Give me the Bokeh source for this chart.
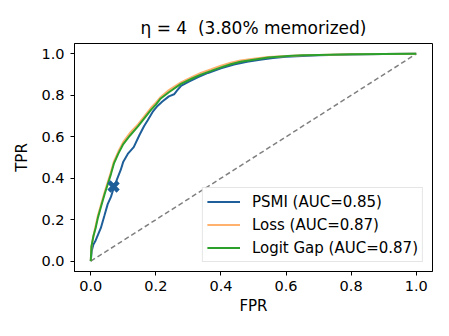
from bokeh.plotting import figure
from bokeh.embed import file_html
from bokeh.resources import INLINE
from bokeh.models import Range1d, FixedTicker, Legend, LegendItem, Title, PrintfTickFormatter

# ---- data ----
psmi_fpr = [0.0, 0.003, 0.008, 0.015, 0.023, 0.031, 0.042, 0.052, 0.062, 0.071, 0.082,
            0.092, 0.100, 0.115, 0.132, 0.150, 0.164, 0.175, 0.190, 0.205, 0.220, 0.240,
            0.256, 0.266, 0.277, 0.300, 0.330, 0.360, 0.400, 0.440, 0.480, 0.520, 0.560,
            0.600, 0.650, 0.700, 0.800, 0.900, 1.0]
psmi_tpr = [0.0, 0.05, 0.08, 0.10, 0.13, 0.16, 0.22, 0.275, 0.31, 0.355, 0.40,
            0.44, 0.48, 0.52, 0.55, 0.61, 0.652, 0.68, 0.72, 0.749, 0.77, 0.795,
            0.805, 0.825, 0.845, 0.865, 0.888, 0.908, 0.93, 0.948, 0.962, 0.972, 0.98,
            0.986, 0.99, 0.993, 0.997, 0.999, 1.0]

loss_fpr = [0.0, 0.002, 0.008, 0.015, 0.022, 0.031, 0.042, 0.052, 0.062, 0.071, 0.085,
            0.100, 0.120, 0.145, 0.165, 0.185, 0.200, 0.215, 0.240, 0.277, 0.310, 0.338,
            0.370, 0.400, 0.430, 0.460, 0.500, 0.545, 0.606, 0.650, 0.700, 0.800, 0.900, 1.0]
loss_tpr = [0.0, 0.07, 0.12, 0.17, 0.22, 0.27, 0.33, 0.38, 0.43, 0.48, 0.53,
            0.575, 0.618, 0.66, 0.70, 0.74, 0.765, 0.792, 0.825, 0.862, 0.888, 0.908,
            0.926, 0.943, 0.957, 0.968, 0.977, 0.985, 0.99, 0.993, 0.995, 0.998, 0.999, 1.0]

gap_fpr = [0.0, 0.002, 0.008, 0.015, 0.022, 0.031, 0.042, 0.052, 0.062, 0.071, 0.085,
           0.100, 0.120, 0.145, 0.165, 0.185, 0.200, 0.215, 0.240, 0.277, 0.310, 0.338,
           0.370, 0.400, 0.430, 0.460, 0.500, 0.545, 0.606, 0.650, 0.700, 0.800, 0.900, 1.0]
gap_tpr = [0.0, 0.07, 0.12, 0.16, 0.21, 0.26, 0.32, 0.37, 0.42, 0.47, 0.52,
           0.565, 0.605, 0.65, 0.69, 0.73, 0.755, 0.785, 0.815, 0.855, 0.88, 0.90,
           0.918, 0.935, 0.95, 0.962, 0.972, 0.982, 0.99, 0.993, 0.995, 0.998, 0.999, 1.0]

chance_x = [0.0, 1.0]
chance_y = [0.0, 1.0]

point_fpr = [0.07]
point_tpr = [0.36]

labels = ["PSMI (AUC=0.85)", "Loss (AUC=0.87)", "Logit Gap (AUC=0.87)"]
ticks = [0.0, 0.2, 0.4, 0.6, 0.8, 1.0]
title_text = "η = 4 \u00a0(3.80% memorized)"

FONT = "DejaVu Sans"
BLUE = "#1f5f99"
ORANGE = "#ffb26e"
GREEN = "#2ca02c"

p = figure(width=433, height=320, output_backend="svg", toolbar_location=None,
           x_range=Range1d(-0.05, 1.05), y_range=Range1d(-0.05, 1.05),
           min_border_left=74, min_border_right=1, min_border_top=43, min_border_bottom=49)
p.title = Title(text=title_text, align="center", text_font=FONT, text_font_size="17px",
                text_font_style="normal", text_color="#000000", offset=0, standoff=12)
p.grid.visible = False
p.outline_line_color = "#000000"
p.outline_line_width = 1
p.outline_line_alpha = 1.0
p.background_fill_color = "white"
p.border_fill_color = "white"

for ax in (p.xaxis[0], p.yaxis[0]):
    ax.ticker = FixedTicker(ticks=ticks)
    ax.formatter = PrintfTickFormatter(format="%.1f")
    ax.major_label_text_font = FONT
    ax.major_label_text_font_size = "14.5px"
    ax.major_label_text_color = "#000000"
    ax.axis_label_text_font = FONT
    ax.axis_label_text_font_size = "15px"
    ax.axis_label_text_font_style = "normal"
    ax.axis_label_text_color = "#000000"
    ax.major_tick_out = 4
    ax.major_tick_in = 0
    ax.minor_tick_out = 0
    ax.minor_tick_in = 0
    ax.axis_line_color = "#000000"
    ax.major_tick_line_color = "#000000"
p.xaxis[0].axis_label = "FPR"
p.yaxis[0].axis_label = "TPR"
p.xaxis[0].major_label_standoff = 5
p.xaxis[0].axis_label_standoff = 3
p.yaxis[0].major_label_standoff = 6
p.yaxis[0].axis_label_standoff = 7

p.line(chance_x, chance_y, line_color="#808080", line_width=1.5, line_dash="5 3")
r1 = p.line(psmi_fpr, psmi_tpr, line_color=BLUE, line_width=2)
r2 = p.line(loss_fpr, loss_tpr, line_color=ORANGE, line_width=2)
r3 = p.line(gap_fpr, gap_tpr, line_color=GREEN, line_width=2)
p.scatter(point_fpr, point_tpr, marker="x", size=13, line_color=BLUE, line_width=4.5)

legend = Legend(items=[LegendItem(label=labels[0], renderers=[r1]),
                       LegendItem(label=labels[1], renderers=[r2]),
                       LegendItem(label=labels[2], renderers=[r3])],
                location="bottom_right")
legend.label_text_font = FONT
legend.label_text_font_size = "15px"
legend.label_text_color = "#000000"
legend.glyph_width = 33
legend.glyph_height = 19
legend.label_height = 19
legend.label_standoff = 12
legend.spacing = 4
legend.padding = 4
legend.margin = 9
legend.border_line_color = "#cccccc"
legend.border_line_width = 1
legend.background_fill_alpha = 0.8
p.add_layout(legend)

open("out.html", "w").write(file_html(p, INLINE))
